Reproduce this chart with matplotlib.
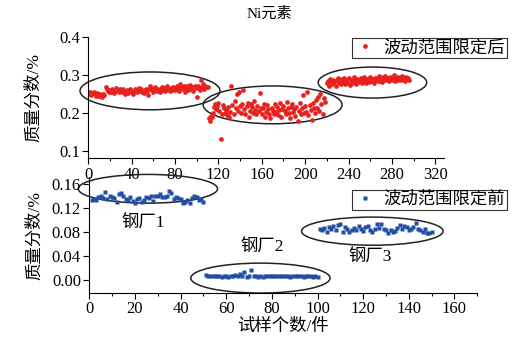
import matplotlib as mpl
mpl.use("Agg")
import matplotlib.pyplot as plt
from matplotlib.patches import Ellipse
from matplotlib.ticker import MultipleLocator

plt.rcParams['font.family'] = ['Liberation Serif', 'Noto Sans CJK SC']
plt.rcParams['font.size'] = 12

# top panel: after limiting fluctuation range (Ni, %)
top_a = [0.250,0.255,0.248,0.252,0.256,0.250,0.245,0.253,0.249,0.244,0.251,0.247,0.243,0.250,0.246,0.268,0.262,0.258,0.254,0.260,
         0.255,0.263,0.257,0.252,0.258,0.266,0.261,0.256,0.264,0.259,0.254,0.262,0.257,0.251,0.255,0.260,0.253,0.258,0.262,0.256,
         0.250,0.257,0.263,0.259,0.254,0.261,0.266,0.258,0.262,0.256,0.252,0.259,0.264,0.257,0.248,0.262,0.271,0.265,0.259,0.255,
         0.262,0.268,0.258,0.264,0.261,0.256,0.263,0.269,0.260,0.265,0.258,0.263,0.270,0.262,0.257,0.266,0.261,0.268,0.264,0.259,
         0.266,0.272,0.263,0.258,0.275,0.268,0.262,0.270,0.256,0.265,0.271,0.259,0.267,0.273,0.262,0.268,0.258,0.270,0.265,0.243,
         0.272,0.266,0.261,0.288,0.269,0.275,0.264,0.270,0.267,0.268]
top_b = [0.185,0.178,0.192,0.188,0.200,0.215,0.222,0.210,0.218,0.225,
         0.205,0.130,0.198,0.220,0.212,0.200,0.208,0.194,0.215,0.188,
         0.202,0.272,0.220,0.196,0.230,0.214,0.250,0.205,0.255,0.219,
         0.200,0.224,0.259,0.210,0.196,0.218,0.226,0.190,0.205,0.222,
         0.215,0.200,0.232,0.208,0.196,0.218,0.205,0.252,0.212,0.198,
         0.214,0.224,0.190,0.203,0.220,0.209,0.197,0.185,0.213,0.206,
         0.198,0.222,0.201,0.215,0.195,0.208,0.226,0.190,0.210,0.218,
         0.205,0.196,0.228,0.212,0.199,0.185,0.216,0.222,0.203,0.209,
         0.192,0.215,0.178,0.205,0.226,0.198,0.212,0.246,0.200,0.218,
         0.203,0.255,0.193,0.220,0.208,0.180,0.226,0.214,0.199,0.235,
         0.212,0.243,0.205,0.250,0.222,0.198,0.238,0.229]
top_c = [0.278,0.283,0.272,0.290,0.285,0.276,0.288,0.281,0.270,0.286,
         0.292,0.279,0.284,0.275,0.289,0.282,0.293,0.277,0.286,0.280,
         0.291,0.274,0.284,0.288,0.279,0.295,0.283,0.276,0.289,0.285,
         0.281,0.292,0.278,0.287,0.294,0.283,0.279,0.290,0.286,0.282,
         0.296,0.284,0.289,0.280,0.293,0.287,0.291,0.283,0.297,0.285,
         0.290,0.282,0.294,0.288,0.298,0.286,0.292,0.284,0.296,0.289,
         0.293,0.287,0.299,0.285,0.291,0.295,0.288,0.294,0.286,0.297,
         0.290,0.293,0.285,0.296,0.289,0.292,0.287]
x_a = list(range(1, 111))
x_b = list(range(111, 219))
x_c = list(range(220, 297))

# bottom panel: before limiting, three steel plants
plant1 = [0.133,0.136,0.134,0.138,0.140,0.137,0.147,0.135,0.141,0.139,0.137,0.131,0.143,0.146,0.140,0.136,0.133,0.138,0.132,0.128,
          0.135,0.137,0.130,0.133,0.139,0.137,0.141,0.132,0.140,0.141,0.143,0.139,0.138,0.141,0.148,0.145,0.136,0.139,0.137,0.135,
          0.128,0.130,0.133,0.129,0.137,0.140,0.138,0.133,0.136,0.130]
plant2 = [0.008,0.007,0.007,0.006,0.006,0.007,0.006,0.005,0.007,0.006,0.005,0.006,0.007,0.008,0.006,0.010,0.007,0.014,0.005,0.006,
          0.016,0.007,0.006,0.005,0.006,0.005,0.006,0.007,0.006,0.006,0.007,0.006,0.007,0.006,0.007,0.006,0.006,0.005,0.006,0.006,
          0.007,0.006,0.006,0.005,0.006,0.006,0.006,0.005,0.006,0.005]
plant3 = [0.085,0.083,0.087,0.080,0.089,0.086,0.091,0.084,0.092,0.093,0.080,0.088,0.085,0.081,0.084,0.087,0.083,0.090,0.086,0.082,
          0.088,0.091,0.084,0.080,0.086,0.093,0.087,0.093,0.085,0.083,0.078,0.084,0.081,0.082,0.087,0.092,0.085,0.090,0.088,0.083,
          0.086,0.089,0.095,0.086,0.083,0.080,0.086,0.078,0.079,0.081]
x_p1 = list(range(1, 51))
x_p2 = list(range(51, 101))
x_p3 = list(range(101, 151))

red = '#e8201e'
blue = '#1f4fa0'

fig = plt.figure(figsize=(5.28, 3.38), dpi=100)
ax1 = fig.add_axes([0.167, 0.532, 0.674, 0.358])
ax2 = fig.add_axes([0.169, 0.133, 0.735, 0.343])

for ax in (ax1, ax2):
    ax.spines['top'].set_visible(False)
    ax.spines['right'].set_visible(False)
    ax.tick_params(which='both', direction='out', length=4, width=0.8, pad=2, labelsize=12)
    ax.tick_params(which='minor', length=2.5)
    ax.patch.set_alpha(0)

ax1.plot(x_a + x_b + x_c, top_a + top_b + top_c, 'o', color=red, ms=3.4, mec='none', label='波动范围限定后')
ax1.set_xlim(0, 328)
ax1.set_ylim(0.08, 0.4)
ax1.xaxis.set_major_locator(MultipleLocator(40))
ax1.xaxis.set_minor_locator(MultipleLocator(20))
ax1.set_yticks([0.1, 0.2, 0.3, 0.4])
ax1.set_yticklabels(['0.1', '0.2', '0.3', '0.4'])
ax1.set_ylabel('质量分数/%', fontsize=12.5, labelpad=12)
for cx, cy, w, h in [(57, 0.258, 129, 0.10), (170, 0.221, 128, 0.10), (262, 0.280, 100, 0.082)]:
    ax1.add_patch(Ellipse((cx, cy), w, h, fill=False, ec='#222222', lw=1.1, clip_on=False))
leg1 = ax1.legend(loc='upper left', bbox_to_anchor=(0.742, 0.99), frameon=True, fancybox=False,
                  edgecolor='black', handletextpad=0.4, handlelength=1.3, borderpad=0.1,
                  borderaxespad=0, fontsize=12.5)
leg1.get_frame().set_linewidth(0.8)

ax2.plot(x_p1 + x_p2 + x_p3, plant1 + plant2 + plant3, 's', color=blue, ms=2.8, mec='none', label='波动范围限定前')
ax2.set_xlim(0, 170)
ax2.set_ylim(-0.0217, 0.172)
ax2.xaxis.set_major_locator(MultipleLocator(20))
ax2.xaxis.set_minor_locator(MultipleLocator(10))
ax2.set_yticks([0.0, 0.04, 0.08, 0.12, 0.16])
ax2.set_yticklabels(['0.00', '0.04', '0.08', '0.12', '0.16'])
ax2.set_ylabel('质量分数/%', fontsize=12.5, labelpad=6)
ax2.set_xlabel('试样个数/件', fontsize=12.5, labelpad=1)
for cx, cy, w, h in [(25.7, 0.1525, 61, 0.048), (75, 0.0033, 61, 0.05), (124, 0.0817, 62, 0.047)]:
    ax2.add_patch(Ellipse((cx, cy), w, h, fill=False, ec='#222222', lw=1.1, clip_on=False))
ax2.text(23.7, 0.095, '钢厂1', ha='center', va='center', fontsize=12.5)
ax2.text(76, 0.055, '钢厂2', ha='center', va='center', fontsize=12.5)
ax2.text(123, 0.038, '钢厂3', ha='center', va='center', fontsize=12.5)
leg2 = ax2.legend(loc='upper left', bbox_to_anchor=(0.678, 0.89), frameon=True, fancybox=False,
                  edgecolor='black', handletextpad=0.4, handlelength=1.3, borderpad=0.1,
                  borderaxespad=0, fontsize=12.5)
leg2.get_frame().set_linewidth(0.8)

fig.text(0.511, 0.959, 'Ni元素', ha='center', va='center', fontsize=11)

plt.savefig('out.png', dpi=100)
